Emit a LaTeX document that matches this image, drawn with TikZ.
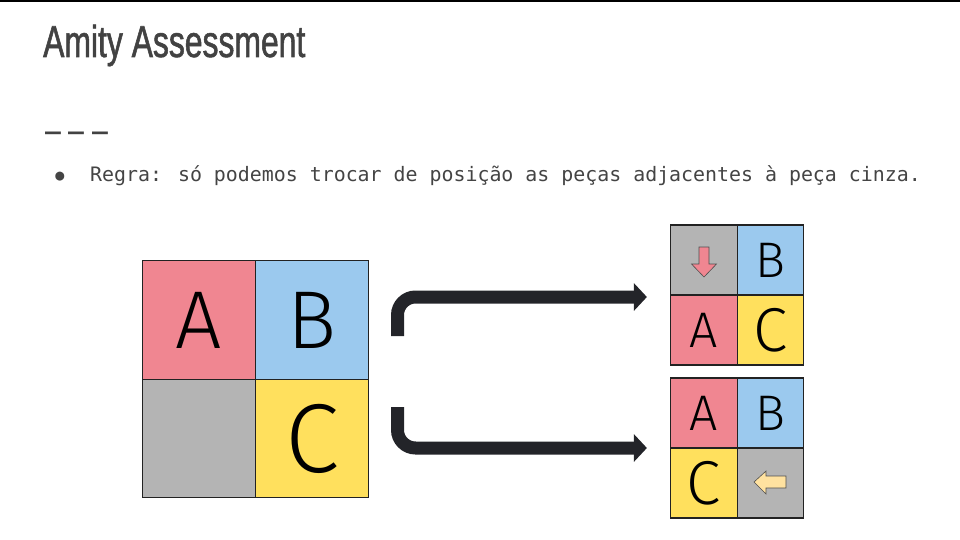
\documentclass[tikz,border=0pt]{standalone}
\usepackage{fontspec}
\usepackage{tikz}
\usetikzlibrary{arrows.meta,positioning,fit,calc}
\setmainfont{Fira Sans}[UprightFont=* Light]
\newfontfamily\titlefont[FakeStretch=0.713,FakeBold=1.2]{Liberation Sans}
\newfontfamily\dashfont[FakeStretch=0.713]{Liberation Sans}
\newfontfamily\rulefont{DejaVu Sans Mono}
\definecolor{amPink}{RGB}{240,134,145}
\definecolor{amBlue}{RGB}{155,201,238}
\definecolor{amYellow}{RGB}{255,224,93}
\definecolor{amGray}{RGB}{180,180,180}
\definecolor{amSand}{RGB}{255,226,160}
\definecolor{amInk}{RGB}{34,34,34}
\definecolor{amArrow}{RGB}{35,36,41}
\definecolor{amTitle}{RGB}{66,66,66}
\definecolor{amText}{RGB}{68,68,68}

\begin{document}
\begin{tikzpicture}[
  x=1pt,y=-1pt,
  cellbox/.style={draw=amInk,line width=1.3pt,inner sep=0pt,minimum width=113pt,minimum height=118.5pt,text=black,font=\fontsize{82}{82}\selectfont},
  smallbox/.style={cellbox,minimum width=66.5pt,minimum height=70pt,font=\fontsize{50}{50}\selectfont},
  bigarr/.style={-{Triangle[length=13pt,width=27pt]},line width=13pt,draw=amArrow,rounded corners=18pt},
  icon/.style={draw=amInk!80,line width=0.6pt}
]
\useasboundingbox (0,0) rectangle (960,540);
\draw[line width=2pt,black] (0,1) -- (960,1);

\node[anchor=base west,inner sep=0pt,text=amTitle,font=\titlefont\fontsize{44.7}{50}\selectfont] (title) at (43,57) {Amity Assessment};
\node[anchor=base west,inner sep=0pt,text=amTitle,font=\dashfont\fontsize{40}{44}\selectfont] (rule) at (45,144) {– – –};
\node[inner sep=0pt,text=amText,font=\rulefont\fontsize{15}{15}\selectfont] (dot) at (60,176.5) {●};
\node[anchor=base west,inner sep=0pt,text=amText,font=\rulefont\fontsize{19.9}{24}\selectfont] (regra) at (90,182) {Regra: só podemos trocar de posição as peças adjacentes à peça cinza.};

% big board
\node[cellbox,fill=amPink] (bA) at (199,320) {A};
\node[cellbox,fill=amBlue] (bB) at (312,320) {B};
\node[cellbox,fill=amGray] (bG) at (199,438.5) {};
\node[cellbox,fill=amYellow,font=\fontsize{98}{98}\selectfont] (bC) at (312,438.5) {C};

% gray moves down
\node[smallbox,fill=amGray] (tG) at (704,260) {};
\node[smallbox,fill=amBlue] (tB) at (770.5,260) {B};
\node[smallbox,fill=amPink] (tA) at (704,330) {A};
\node[smallbox,fill=amYellow,font=\fontsize{62}{62}\selectfont] (tC) at (770.5,330) {C};
\draw[icon,fill=amPink] (tG.center) ++(-5,-13) -- ++(10,0) -- ++(0,17) -- ++(7.5,0) -- ++(-12.5,13) -- ++(-12.5,-13) -- ++(7.5,0) -- cycle;

% gray moves right
\node[smallbox,fill=amPink] (uA) at (704,413) {A};
\node[smallbox,fill=amBlue] (uB) at (770.5,413) {B};
\node[smallbox,fill=amYellow,font=\fontsize{62}{62}\selectfont] (uC) at (704,483) {C};
\node[smallbox,fill=amGray] (uG) at (770.5,483) {};
\draw[icon,fill=amSand] (uG.center) ++(15.5,-7) -- ++(-20,0) -- ++(0,-5) -- ++(-12,11) -- ++(12,12) -- ++(0,-6) -- ++(20,0) -- cycle;

\node[fit=(tG)(tC),inner sep=0pt] (gridtop) {};
\node[fit=(uA)(uG),inner sep=0pt] (gridbot) {};
\coordinate (upstart) at (397.5,336);
\coordinate (downstart) at (397.5,407);
\draw[bigarr] (upstart) |- ([xshift=-23pt,yshift=-2pt]gridtop.west);
\draw[bigarr] (downstart) |- ([xshift=-23pt]gridbot.west);
\end{tikzpicture}
\end{document}
